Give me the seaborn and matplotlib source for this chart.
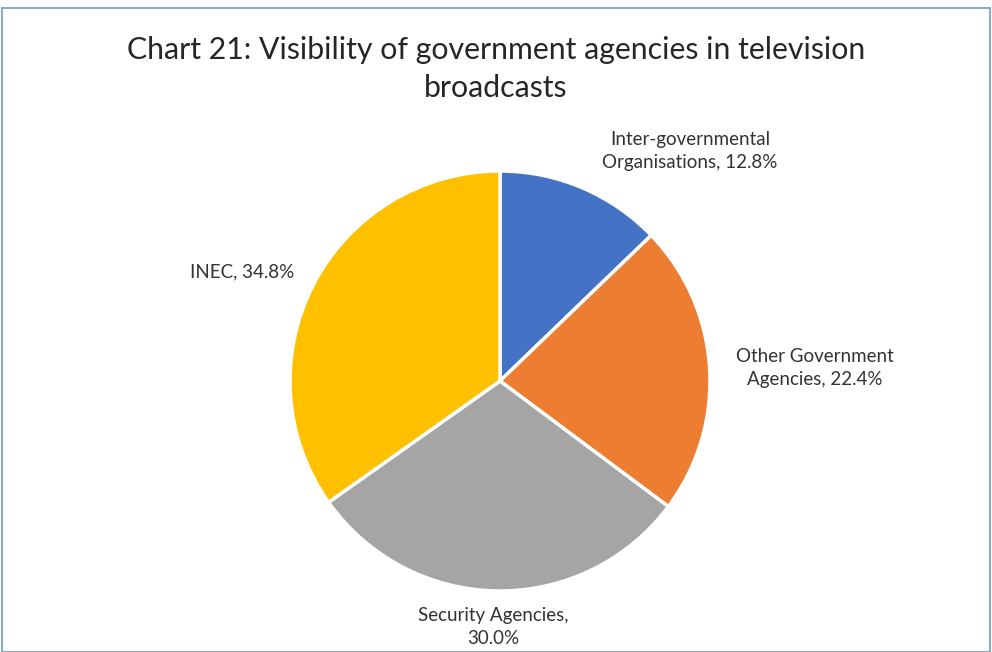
import matplotlib
matplotlib.use('Agg')
import matplotlib.pyplot as plt
import seaborn as sns
from matplotlib.patches import Rectangle

# データ
categories = ['Inter-governmental\nOrganisations', 'Other Government\nAgencies',
              'Security Agencies,\n', 'INEC']
values = [12.8, 22.4, 30.0, 34.8]
colors = ['#4472C4', '#ED7D31', '#A5A5A5', '#FFC000']

sns.set_theme(style='white')
plt.rcParams['font.family'] = ['Lato', 'DejaVu Sans']

fig = plt.figure(figsize=(9.92, 6.52), dpi=100)
fig.patch.set_facecolor('white')

# 枠線
fig.add_artist(Rectangle((2 / 992, 0), 1 - 4 / 992, 1 - 8 / 652, transform=fig.transFigure,
                         fill=False, edgecolor='#8EA9C8', linewidth=1.5))

fig.text(0.5, 1 - 50 / 652, 'Chart 21: Visibility of government agencies in television',
         ha='center', va='center', fontsize=21.8, color='#262626')
fig.text(0.5, 1 - 88 / 652, 'broadcasts', ha='center', va='center', fontsize=21.8, color='#262626')

# 円グラフ
cx, cy, r = 500, 381, 210
ax = fig.add_axes([(cx - r) / 992, (652 - cy - r) / 652, 2 * r / 992, 2 * r / 652])
ax.pie(values, colors=colors, startangle=90, counterclock=False, radius=1,
       wedgeprops=dict(edgecolor='white', linewidth=2.5))
ax.set_xlim(-1, 1)
ax.set_ylim(-1, 1)
ax.set_aspect('auto')
ax.axis('off')

# ラベル
label_pos = [(0.905, 1.095), (1.5, 0.062), (-0.03, -1.17), (-1.23, 0.52)]
texts = ['Inter-governmental\nOrganisations, {:.1f}%', 'Other Government\nAgencies, {:.1f}%',
         'Security Agencies,\n{:.1f}%', 'INEC, {:.1f}%']
for t, v, (x, y) in zip(texts, values, label_pos):
    ax.text(x, y, t.format(v), ha='center', va='center', fontsize=13.5,
            color='#333333', linespacing=1.45, clip_on=False)

plt.savefig('out.png', dpi=100)
